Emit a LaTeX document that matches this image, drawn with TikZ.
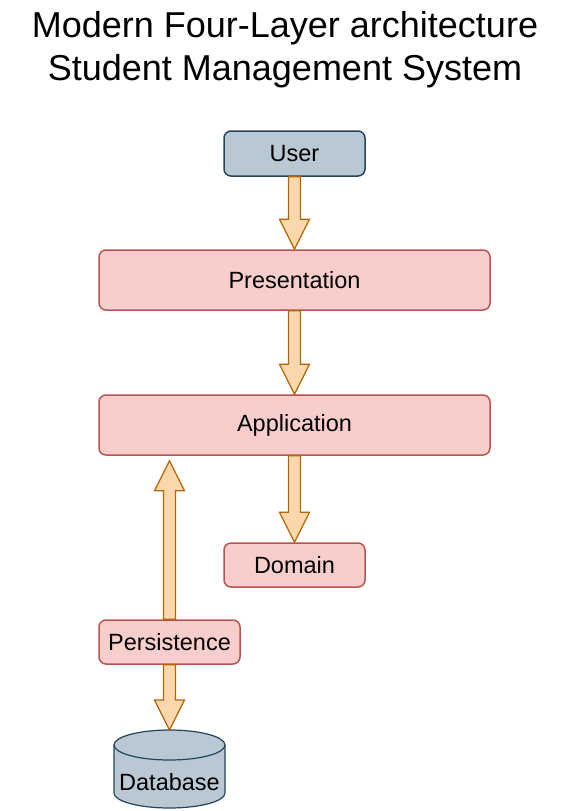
\documentclass[tikz,border=0pt]{standalone}
\usepackage{fontspec}
\setmainfont{Liberation Sans}
\usetikzlibrary{calc}

\definecolor{layerfill}{HTML}{F8CECC}
\definecolor{layerline}{HTML}{B85450}
\definecolor{actorfill}{HTML}{BAC8D3}
\definecolor{actorline}{HTML}{23445D}
\definecolor{flowfill}{HTML}{FAD7AC}
\definecolor{flowline}{HTML}{B46504}

\begin{document}
\begin{tikzpicture}[
  x=1pt, y=1pt,
  layer/.style={draw=layerline, fill=layerfill, line width=1.5pt, rounded corners=7pt, minimum width=391pt, minimum height=60pt, font=\fontsize{23.5}{28}\selectfont},
  smalllayer/.style={layer, minimum width=141pt, minimum height=44pt},
  actor/.style={smalllayer, draw=actorline, fill=actorfill, minimum height=45pt},
  dbshape/.style={draw=actorline, fill=actorfill, line width=1.2pt},
  fatarrow/.style={draw=flowline, fill=flowfill, line width=1.2pt, line join=miter,
    to path={let \p1=($(\tikztotarget)!30pt!(\tikztostart)$) in
      ($(\tikztostart)!6pt!90:(\tikztotarget)$) -- ($(\p1)!6pt!90:(\tikztotarget)$)
      -- ($(\p1)!15pt!90:(\tikztotarget)$) -- (\tikztotarget)
      -- ($(\p1)!15pt!-90:(\tikztotarget)$) -- ($(\p1)!6pt!-90:(\tikztotarget)$)
      -- ($(\tikztostart)!6pt!-90:(\tikztotarget)$) -- cycle}}
]
\useasboundingbox (0,0) rectangle (570,-811);

% Title
\node[align=center, font=\fontsize{36}{43}\selectfont] (title) at (285,-49.5)
  {Modern Four-Layer architecture\\Student Management System};

% Layers
\node[actor] (user) at (294.5,-153.5) {User};
\node[layer] (pres) at (294.5,-280) {Presentation};
\node[layer] (app) at (294.5,-425) {Application};
\node[smalllayer] (domain) at (294.5,-565) {Domain};
\node[smalllayer] (persist) at (169.5,-642) {Persistence};

% Database cylinder
\coordinate (dbtop) at (169.5,-730);
\draw[dbshape] (114,-745) -- (114,-793) arc[start angle=180, end angle=360, x radius=55.5, y radius=15]
  -- (225,-745) arc[start angle=0, end angle=180, x radius=55.5, y radius=15] -- cycle;
\draw[dbshape, fill=none] (114,-745) arc[start angle=180, end angle=360, x radius=55.5, y radius=15];
\node[font=\fontsize{23.5}{28}\selectfont] (db) at (169.5,-782) {Database};

% Flows
\coordinate (apptip) at ([yshift=-5pt]app.south -| persist.north);
\draw[fatarrow] (user.south) to (pres.north);
\draw[fatarrow] (pres.south) to (app.north);
\draw[fatarrow] (app.south) to (domain.north);
\draw[fatarrow] (persist.north) to (apptip);
\draw[fatarrow] (persist.south) to (dbtop);

\end{tikzpicture}
\end{document}
